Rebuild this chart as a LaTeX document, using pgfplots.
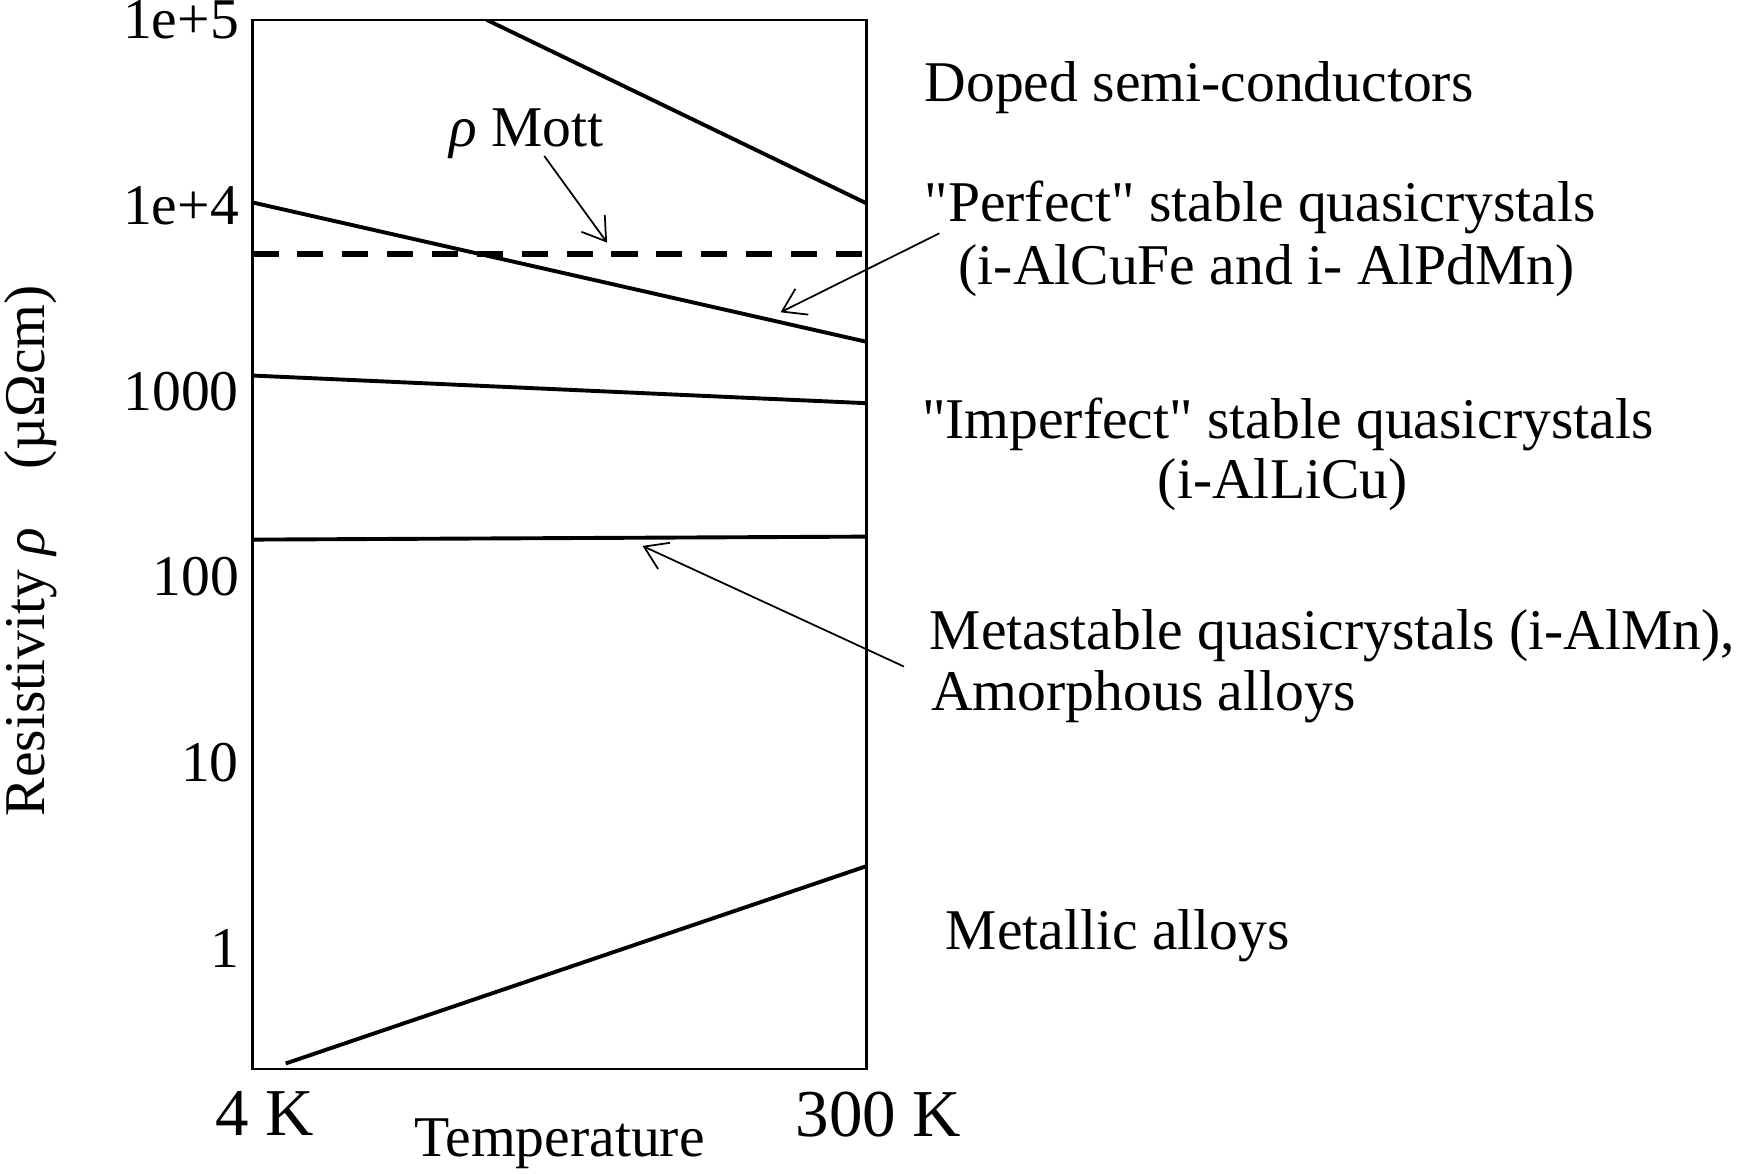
\documentclass[border=0pt]{standalone}
\usepackage{fontspec}
\setmainfont{Liberation Serif}[Ligatures=TeXOff]
\usepackage{pgfplots}
\pgfplotsset{compat=1.18}
\usetikzlibrary{arrows.meta}

\newcommand\lbl{\fontsize{14.8}{17.5}\selectfont}

\begin{document}
\begin{tikzpicture}[x=1mm,y=1mm]
\path[use as bounding box] (-22.8,-9.4) rectangle (134,96.5);
\begin{axis}[
    at={(0,0)}, anchor=south west,
    scale only axis,
    width=55.4mm, height=94.7mm,
    xmin=4, xmax=300,
    ymode=log, ymin=0.224, ymax=1e5,
    xtick={4,300}, xticklabels={4 K,300 K},
    ytick={1,10,100,1000,10000,100000},
    yticklabels={1,10,100,1000,1e+4,1e+5},
    yminorticks=false,
    major tick length=0pt,
    axis line style={line width=0.7pt},
    tick label style={font=\lbl},
    xticklabel style={font=\fontsize{17.2}{20}\selectfont, xshift=1.1mm, yshift=-0.8mm},
    /pgf/number format/assume math mode=true,
    xlabel={Temperature},
    xlabel style={font=\lbl, at={(axis description cs:0.5,0)}, anchor=base, yshift=-7.9mm},
    ylabel={Resistivity \textit{ρ}\quad(µΩcm)},
    every axis y label/.style={font=\lbl, at={(axis description cs:-0.3394,0.4942)}, anchor=base, rotate=90},
]
% doped semi-conductors
\addplot[line width=1pt] coordinates {(117,1e5) (300,1.03e4)};
% "perfect" stable quasicrystals
\addplot[line width=1pt] coordinates {(4,1.04e4) (300,1849)};
% Mott limit
\addplot[line width=1.6pt, dash pattern=on 2.35mm off 1.7mm] coordinates {(4,5500) (300,5500)};
% "imperfect" stable quasicrystals
\addplot[line width=1pt] coordinates {(4,1216) (300,863)};
% metastable quasicrystals, amorphous alloys
\addplot[line width=1pt] coordinates {(4,159) (300,165)};
% metallic alloys
\addplot[line width=1pt] coordinates {(20,0.240) (300,2.77)};
\end{axis}

\begin{scope}[every node/.style={font=\lbl, inner sep=0pt}]
\node[anchor=base] at (24.7,83.26) {\textit{ρ} Mott};
\node[anchor=base west] at (60.6,87.38) {Doped semi-conductors};
\node[anchor=base west] at (60.6,76.49) {"Perfect" stable quasicrystals};
\node[anchor=base] at (91.55,70.78) {(i-AlCuFe and i- AlPdMn)};
\node[anchor=base west] at (60.36,56.94) {"Imperfect" stable quasicrystals};
\node[anchor=base] at (93.0,51.5) {(i-AlLiCu)};
\node[anchor=base west] at (61.08,37.88) {Metastable quasicrystals (i-AlMn),};
\node[anchor=base west] at (61.2,32.37) {Amorphous alloys};
\node[anchor=base west] at (62.52,10.8) {Metallic alloys};
\end{scope}

\begin{scope}[line width=0.45pt, -{Straight Barb[length=2mm,width=2.6mm]}]
\draw (26.33,82.42) -- (32.0,74.6);
\draw (62.0,75.44) -- (47.66,68.31);
\draw (58.8,36.33) -- (35.2,47.22);
\end{scope}
\end{tikzpicture}
\end{document}
